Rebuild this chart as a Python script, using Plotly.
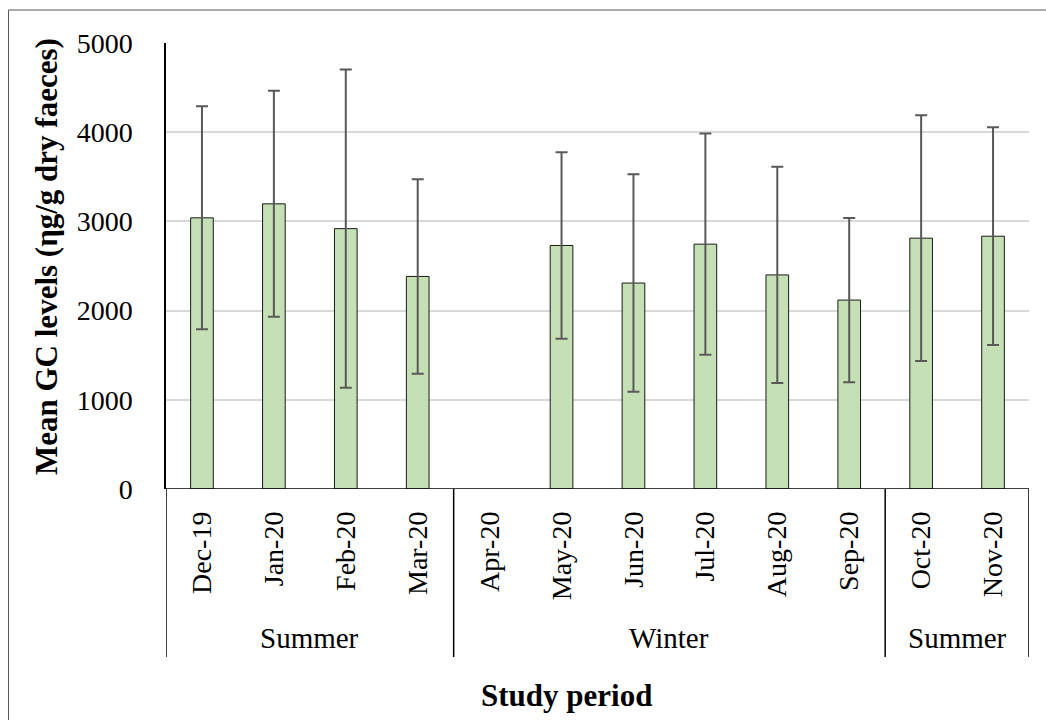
import plotly.graph_objects as go

# Monthly mean glucocorticoid levels with standard deviation
months = ["Dec-19", "Jan-20", "Feb-20", "Mar-20", "Apr-20", "May-20",
          "Jun-20", "Jul-20", "Aug-20", "Sep-20", "Oct-20", "Nov-20"]
seasons = ["Summer", "Summer", "Summer", "Summer", "Winter", "Winter",
           "Winter", "Winter", "Winter", "Winter", "Summer", "Summer"]
mean_gc = [3040, 3197, 2919, 2383, None, 2730, 2309, 2745, 2400, 2118, 2812, 2834]
sd_gc = [1250, 1267, 1783, 1090, None, 1046, 1219, 1241, 1213, 920, 1377, 1221]
y_ticks = [0, 1000, 2000, 3000, 4000, 5000]

FONT = "Liberation Serif"
W, H = 1046, 720
L, R, T, B = 166, 17, 43, 231
plot_w = W - L - R
plot_h = H - T - B


def px_x(px):
    return (px - L) / plot_w


def px_y(py):
    return (H - B - py) / plot_h


x_idx = list(range(len(months)))

fig = go.Figure(go.Bar(
    x=x_idx,
    y=mean_gc,
    width=0.315,
    marker=dict(color="#C5E0B4", line=dict(color="#1a1a1a", width=1)),
    error_y=dict(type="data", array=sd_gc, visible=True,
                 color="#595959", thickness=2, width=6),
))

# contiguous season groups along the category axis
groups = []
start = 0
for i in range(1, len(seasons) + 1):
    if i == len(seasons) or seasons[i] != seasons[start]:
        groups.append((seasons[start], start, i - 1))
        start = i

shapes = []
line_style = dict(color="black", width=1.5)
# baseline of the category axis
shapes.append(dict(type="line", xref="paper", yref="y", x0=0, x1=1, y0=0, y1=0,
                   line=line_style))
# group dividers
bottom = px_y(657)
edges = [groups[0][1] - 0.5] + [g[2] + 0.5 for g in groups]
for e in edges:
    shapes.append(dict(type="line", xref="x", yref="paper", x0=e, x1=e,
                       y0=bottom, y1=0, line=line_style))
# chart frame
shapes.append(dict(type="rect", xref="paper", yref="paper",
                   x0=px_x(8.5), x1=px_x(1060), y0=px_y(730), y1=px_y(10),
                   line=dict(color="#595959", width=1), layer="below"))

annotations = []
for name, a, b in groups:
    annotations.append(dict(x=(a + b) / 2, y=px_y(638), xref="x", yref="paper",
                            text=name, showarrow=False, yanchor="middle",
                            font=dict(family=FONT, size=29, color="black")))
annotations.append(dict(x=px_x(566), y=px_y(695), xref="paper", yref="paper",
                        text="<b>Study period</b>", showarrow=False,
                        yanchor="middle",
                        font=dict(family=FONT, size=31, color="black")))
annotations.append(dict(x=px_x(46), y=px_y(257), xref="paper", yref="paper",
                        text="<b>Mean GC levels (ηg/g dry faeces)</b>",
                        textangle=-90, showarrow=False,
                        xanchor="center", yanchor="middle",
                        font=dict(family=FONT, size=31, color="black")))

fig.update_layout(
    width=W, height=H,
    margin=dict(l=L, r=R, t=T, b=B),
    paper_bgcolor="white", plot_bgcolor="white",
    showlegend=False,
    shapes=shapes,
    annotations=annotations,
    xaxis=dict(range=[-0.5, len(months) - 0.5], tickvals=x_idx, ticktext=months,
               tickangle=-90, showgrid=False, zeroline=False, showline=False,
               ticks="", ticklabelstandoff=16,
               tickfont=dict(family=FONT, size=28, color="black")),
    yaxis=dict(range=[0, 5000], tickvals=y_ticks, showgrid=True,
               gridcolor="#D9D9D9", gridwidth=1.5, zeroline=False,
               showline=True, linecolor="black", linewidth=1.5,
               ticks="", ticklabelstandoff=26,
               tickfont=dict(family=FONT, size=28, color="black")),
)

fig.write_html("out.html")
